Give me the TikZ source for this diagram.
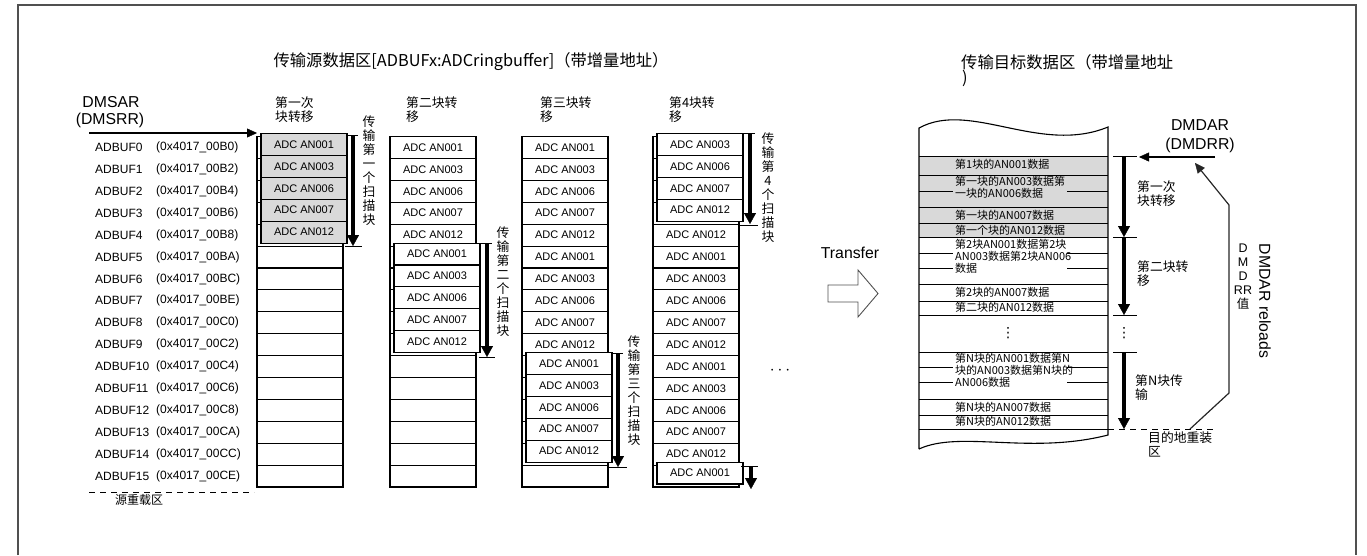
\documentclass[tikz,border=0pt]{standalone}
\usepackage{fontspec}
\setmainfont{Liberation Sans}
\newfontfamily\cjk{Noto Sans CJK SC}
\newfontfamily\djv{DejaVu Sans}
\usetikzlibrary{arrows.meta}
\definecolor{boxgray}{HTML}{D9D9D9}
\definecolor{framegray}{HTML}{505050}
\tikzset{
  cell/.style={draw, line width=1.1pt, minimum width=86pt, minimum height=21.9pt, inner sep=0pt, font=\fontsize{11}{12}\selectfont},
  ovl/.style={cell, fill=white},
  ovlg/.style={cell, fill=boxgray},
  bigarrow/.style={line width=4.5pt, -{Triangle[width=12pt,length=11pt,line width=0.4pt]}},
  tickline/.style={line width=1pt},
  thinarrow/.style={line width=1.2pt, -{Triangle[width=9pt,length=10pt,line width=0.4pt]}},
  vtext/.style={font=\cjk\fontsize{12.8}{13.9}\selectfont, align=center, inner sep=0pt, anchor=north},
  hdr/.style={font=\cjk\fontsize{12.8}{14}\selectfont, align=left, inner sep=0pt, anchor=north west},
  lab/.style={font=\fontsize{12}{14}\selectfont, anchor=west, inner sep=0pt},
  doctext/.style={font=\cjk\fontsize{11}{11.8}\selectfont, align=left, anchor=west, inner sep=0pt},
  bigtext/.style={font=\fontsize{15.8}{18}\selectfont, inner sep=0pt},
}
\begin{document}
\begin{tikzpicture}[x=1pt,y=-1pt]
\useasboundingbox (0,0) rectangle (1367,555);
% outer frame
\draw[framegray, line width=1.5pt] (18,555) -- (18,5) -- (1356,5) -- (1356,555);

% titles
\node[font=\cjk\fontsize{16.3}{18}\selectfont, inner sep=0pt] (title1) at (471,62) {传输源数据区[ADBUFx:ADCringbuffer]（带增量地址）};
\node[font=\cjk\fontsize{16.3}{18}\selectfont, inner sep=0pt, anchor=west] (title2) at (961,62) {传输目标数据区（带增量地址};
\node[font=\cjk\fontsize{16.3}{18}\selectfont, inner sep=0pt, anchor=west] (title2b) at (962,78) {)};

% DMSAR
\node[bigtext] (dmsar) at (111,102) {DMSAR};
\node[bigtext] (dmsrr) at (110,120) {(DMSRR)};
\coordinate (dmsarS) at (89,133);
\coordinate (dmsarE) at (257,133);
\draw[thinarrow] (dmsarS) -- (dmsarE);

% ADBUF labels
\foreach \i/\a in {0/00B0,1/00B2,2/00B4,3/00B6,4/00B8,5/00BA,6/00BC,7/00BE,8/00C0,9/00C2,10/00C4,11/00C6,12/00C8,13/00CA,14/00CC,15/00CE}{
  \pgfmathsetmacro{\yc}{147.5+21.9*\i}
  \node[lab] (bufl\i) at (95,\yc) {ADBUF\i};
  \node[lab] (bufa\i) at (156,\yc) {(0x4017\_\a)};
}
\draw[dashed, dash pattern=on 6pt off 5pt, line width=0.9pt] (89,492) -- (254,492);
\node[font=\cjk\fontsize{12}{14}\selectfont, inner sep=0pt] (srcre) at (139,500) {源重载区};

% column headers
\node[hdr] (h1) at (275,96) {第一次\\块转移};
\node[hdr] (h2) at (406,96) {第二块转\\移};
\node[hdr] (h3) at (540,96) {第三块转\\移};
\node[hdr] (h4) at (669,96) {第4块转\\移};

% column 1
\foreach \i in {0,...,15}{
  \pgfmathsetmacro{\yc}{147.5+21.9*\i}
  \node[cell] (c1r\i) at (300,\yc) {};
}
\foreach \i/\t in {0/001,1/003,2/006,3/007,4/012}{
  \pgfmathsetmacro{\yc}{144.5+21.9*\i}
  \node[ovlg] (o1r\i) at (304,\yc) {ADC AN\t};
}
% column 2
\foreach \i/\t in {0/001,1/003,2/006,3/007,4/012}{
  \pgfmathsetmacro{\yc}{147.5+21.9*\i}
  \node[cell] (c2r\i) at (433,\yc) {ADC AN\t};
}
\foreach \i in {5,...,15}{
  \pgfmathsetmacro{\yc}{147.5+21.9*\i}
  \node[cell] (c2r\i) at (433,\yc) {};
}
\foreach \i/\t in {5/001,6/003,7/006,8/007,9/012}{
  \pgfmathsetmacro{\yc}{144.5+21.9*\i}
  \node[ovl] (o2r\i) at (437,\yc) {ADC AN\t};
}
% column 3
\foreach \i/\t in {0/001,1/003,2/006,3/007,4/012,5/001,6/003,7/006,8/007,9/012}{
  \pgfmathsetmacro{\yc}{147.5+21.9*\i}
  \node[cell] (c3r\i) at (565,\yc) {ADC AN\t};
}
\foreach \i in {10,...,15}{
  \pgfmathsetmacro{\yc}{147.5+21.9*\i}
  \node[cell] (c3r\i) at (565,\yc) {};
}
\foreach \i/\t in {10/001,11/003,12/006,13/007,14/012}{
  \pgfmathsetmacro{\yc}{144.5+21.9*\i}
  \node[ovl] (o3r\i) at (569,\yc) {ADC AN\t};
}
% column 4
\foreach \i in {0,1,2,3,15}{
  \pgfmathsetmacro{\yc}{147.5+21.9*\i}
  \node[cell] (c4r\i) at (696,\yc) {};
}
\foreach \i/\t in {4/012,5/001,6/003,7/006,8/007,9/012,10/001,11/003,12/006,13/007,14/012}{
  \pgfmathsetmacro{\yc}{147.5+21.9*\i}
  \node[cell] (c4r\i) at (696,\yc) {ADC AN\t};
}
\foreach \i/\t in {0/003,1/006,2/007,3/012,15/001}{
  \pgfmathsetmacro{\yc}{144.5+21.9*\i}
  \node[ovl] (o4r\i) at (700,\yc) {ADC AN\t};
}

% scan arrows
\coordinate (a1s) at (353,136); \coordinate (a1e) at (353,246);
\draw[bigarrow] (a1s) -- (a1e);
\draw[tickline] (347,135) -- (358,135);
\draw[tickline] (345,246.5) -- (362,246.5);
\node[vtext] (v1) at (369,116) {传\\输\\第\\一\\个\\扫\\描\\块};

\coordinate (a2s) at (487,244); \coordinate (a2e) at (487,357);
\draw[bigarrow] (a2s) -- (a2e);
\draw[tickline] (479,243.5) -- (492,243.5);
\draw[tickline] (479,357) -- (495,357);
\node[vtext] (v2) at (503,227) {传\\输\\第\\二\\个\\扫\\描\\块};

\coordinate (a3s) at (618,354); \coordinate (a3e) at (618,467);
\draw[bigarrow] (a3s) -- (a3e);
\draw[tickline] (611,353) -- (623,353);
\draw[tickline] (608,467.5) -- (627,467.5);
\node[vtext] (v3) at (634,336) {传\\输\\第\\三\\个\\扫\\描\\块};

\coordinate (a4s) at (750,134); \coordinate (a4e) at (750,224);
\draw[bigarrow] (a4s) -- (a4e);
\draw[tickline] (742,133.5) -- (755,133.5);
\draw[tickline] (740,225) -- (758,225);
\node[vtext] (v4) at (768,133) {传\\输\\第\\4\\个\\扫\\描\\块};

\coordinate (a5s) at (751,467); \coordinate (a5e) at (751,489);
\draw[bigarrow] (a5s) -- (a5e);
\draw[tickline] (741,466.5) -- (758,466.5);

\node[font=\fontsize{16}{16}\selectfont, inner sep=0pt] (dots) at (780,371) {$\cdots$};

% transfer block arrow
\node[bigtext] (transfer) at (850,253) {Transfer};
\draw[framegray, line width=0.9pt] (828,285) -- (858,285) -- (858,270) -- (878,293.5) -- (858,317) -- (858,302) -- (828,302) -- cycle;

% destination document
\fill[boxgray] (919,156) rectangle (1108,237);
\draw[line width=1.1pt] (919,449) -- (919,128) .. controls (970,100) and (1040,155) .. (1108,127) -- (1108,435) .. controls (1030,455) and (960,430) .. (919,449);
\foreach \y in {156,175,207,223,237,284,301,315,352,399,415,429}{
  \draw[line width=0.9pt] (919,\y) -- (1108,\y);
}
\foreach \y in {191,253,268,367,382}{
  \draw[line width=0.9pt] (919,\y) -- (953,\y);
  \draw[line width=0.9pt] (1067,\y) -- (1108,\y);
}
\node[doctext] (d1) at (955,164) {第1块的AN001数据};
\node[doctext] (d2) at (955,187.5) {第一块的AN003数据第\\一块的AN006数据};
\node[doctext] (d3) at (955,215) {第一块的AN007数据};
\node[doctext] (d4) at (955,230) {第一个块的AN012数据};
\node[doctext] (d5) at (955,256.5) {第2块AN001数据第2块\\AN003数据第2块AN006\\数据};
\node[doctext] (d6) at (955,292) {第2块的AN007数据};
\node[doctext] (d7) at (955,307.5) {第二块的AN012数据};
\node[doctext] (d8) at (955,370.5) {第N块的AN001数据第N\\块的AN003数据第N块的\\AN006数据};
\node[doctext] (d9) at (955,407) {第N块的AN007数据};
\node[doctext] (d10) at (955,421) {第N块的AN012数据};
\node[font=\djv\fontsize{14}{14}\selectfont, inner sep=0pt] (vd1) at (1008,333) {⋮};
\node[font=\djv\fontsize{14}{14}\selectfont, inner sep=0pt] (vd2) at (1124,333) {⋮};

% destination arrows
\coordinate (b1s) at (1124,157); \coordinate (b1e) at (1124,237);
\draw[bigarrow] (b1s) -- (b1e);
\draw[tickline] (1113,156.5) -- (1137,156.5);
\draw[tickline] (1113,237) -- (1137,237);
\coordinate (b2s) at (1124,238); \coordinate (b2e) at (1124,315);
\draw[bigarrow] (b2s) -- (b2e);
\draw[tickline] (1113,315) -- (1137,315);
\coordinate (b3s) at (1124,353); \coordinate (b3e) at (1124,429);
\draw[bigarrow] (b3s) -- (b3e);
\draw[tickline] (1113,352) -- (1137,352);
\draw[dashed, dash pattern=on 6pt off 5pt, line width=0.9pt] (1108,429) -- (1213,429);

\node[hdr] (r1) at (1137,180) {第一次\\块转移};
\node[hdr] (r2) at (1137,260) {第二块转\\移};
\node[hdr] (r3) at (1135,374) {第N块传\\输};
\node[hdr] (dstre) at (1148,431) {目的地重装\\区};

% DMDAR
\node[bigtext] (dmdar) at (1200,125) {DMDAR};
\node[bigtext] (dmdrr) at (1200,145) {(DMDRR)};
\coordinate (dmdS) at (1215,157);
\coordinate (dmdE) at (1139,157);
\draw[thinarrow] (dmdS) -- (dmdE);

% reload arrow
\coordinate (rl0) at (1190,429);
\coordinate (rl1) at (1229,393);
\coordinate (rl2) at (1229,205);
\coordinate (rl3) at (1195,163);
\draw[thinarrow, draw=black!85] (rl0) -- (rl1) -- (rl2) -- (rl3);
\node[rotate=-90, font=\fontsize{15.8}{18}\selectfont, inner sep=0pt] (reloads) at (1265,301) {DMDAR reloads};
\node[font=\fontsize{12.5}{14}\selectfont, align=center, inner sep=0pt, anchor=north] (dmdrrv) at (1243,244) {D\\M\\D\\RR\\{\cjk 值}};
\end{tikzpicture}
\end{document}
